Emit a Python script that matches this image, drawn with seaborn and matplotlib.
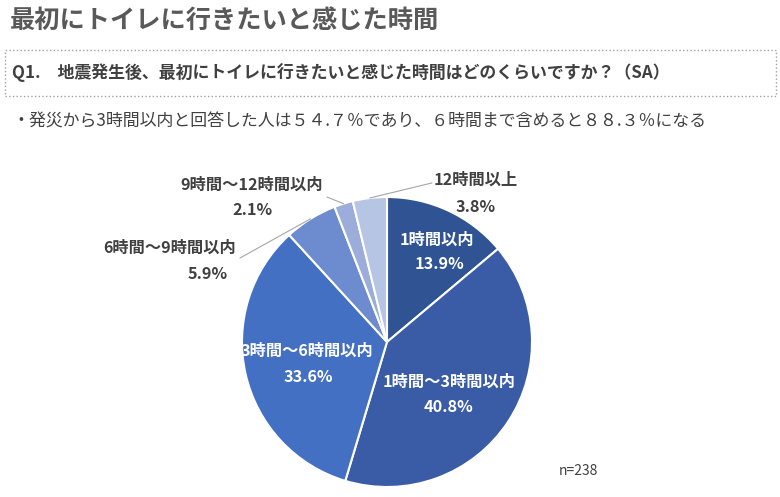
import matplotlib.pyplot as plt
from matplotlib.patches import Rectangle
import numpy as np
import seaborn as sns

# data
categories = ["1時間以内", "1時間～3時間以内", "3時間～6時間以内",
              "6時間～9時間以内", "9時間～12時間以内", "12時間以上"]
shares = [13.9, 40.8, 33.6, 5.9, 2.1, 3.8]
n_total = 238

title = "最初にトイレに行きたいと感じた時間"
question = "Q1.　地震発生後、最初にトイレに行きたいと感じた時間はどのくらいですか？（SA）"
note = "・発災から3時間以内と回答した人は５４.７％であり、６時間まで含めると８８.３％になる"

colors = ["#2F5393", "#3A5CA6", "#4470C3", "#6D8BCF", "#9CADDB", "#B7C5E4"]

sns.set_theme(style="white")
plt.rcParams["font.family"] = ["Noto Sans CJK JP", "DejaVu Sans"]

W, H = 780, 497
R = 145.0           # pie radius in px
CX, CY = 387, 342   # pie centre in px (from top)

fig = plt.figure(figsize=(W / 100, H / 100), dpi=100)
ax = fig.add_axes([0, 0, 1, 1])

wedges, _ = ax.pie(shares, colors=colors, startangle=90, counterclock=False,
                   radius=1.0, wedgeprops=dict(edgecolor="white", linewidth=1.5))
ax.set_xlim(-CX / R, (W - CX) / R)
ax.set_ylim(-(H - CY) / R, CY / R)
ax.set_aspect("equal")
ax.axis("off")

# label layout: name pos, pct pos (in pie radius units), inside flag
label_pos = [
    ((0.345, 0.703), (0.359, 0.538), True),
    ((0.428, -0.276), (0.421, -0.448), True),
    ((-0.552, -0.062), (-0.545, -0.241), True),
    ((-1.497, 0.648), (-1.234, 0.469), False),
    ((-0.934, 1.083), (-0.931, 0.910), False),
    ((0.614, 1.117), (0.614, 0.931), False),
]
leader_end = {3: (-1.014, 0.579), 4: (-0.414, 1.0), 5: (0.310, 1.097)}

for i, (w, cat, val) in enumerate(zip(wedges, categories, shares)):
    (nx, ny), (px, py), inside = label_pos[i]
    col = "white" if inside else "#404040"
    ax.text(nx, ny, cat, ha="center", va="center", color=col,
            fontsize=11.7, fontweight="bold")
    ax.text(px, py, f"{val:.1f}%", ha="center", va="center", color=col,
            fontsize=11.7, fontweight="bold")
    if i in leader_end:
        ang = np.deg2rad((w.theta1 + w.theta2) / 2)
        ex, ey = leader_end[i]
        ax.plot([np.cos(ang), ex], [np.sin(ang), ey], color="#A6A6A6",
                lw=0.8, clip_on=False)

# header texts
fig.text(10 / W, 1 - 20 / H, title, ha="left", va="center",
         fontsize=18.2, fontweight="bold", color="#595959")
fig.patches.append(Rectangle((5 / W, 1 - 96 / H), 771 / W, 46 / H,
                             transform=fig.transFigure, fill=False,
                             edgecolor="#A0A0A0", linestyle=":", lw=1))
fig.text(12 / W, 1 - 73 / H, question, ha="left", va="center",
         fontsize=12.2, fontweight="bold", color="#404040")
fig.text(12 / W, 1 - 122 / H, note, ha="left", va="center",
         fontsize=12.2, color="#404040")
fig.text(578 / W, 1 - 471 / H, f"n={n_total}", ha="center", va="center",
         fontsize=10, color="#404040")

fig.savefig("out.png", dpi=100)
